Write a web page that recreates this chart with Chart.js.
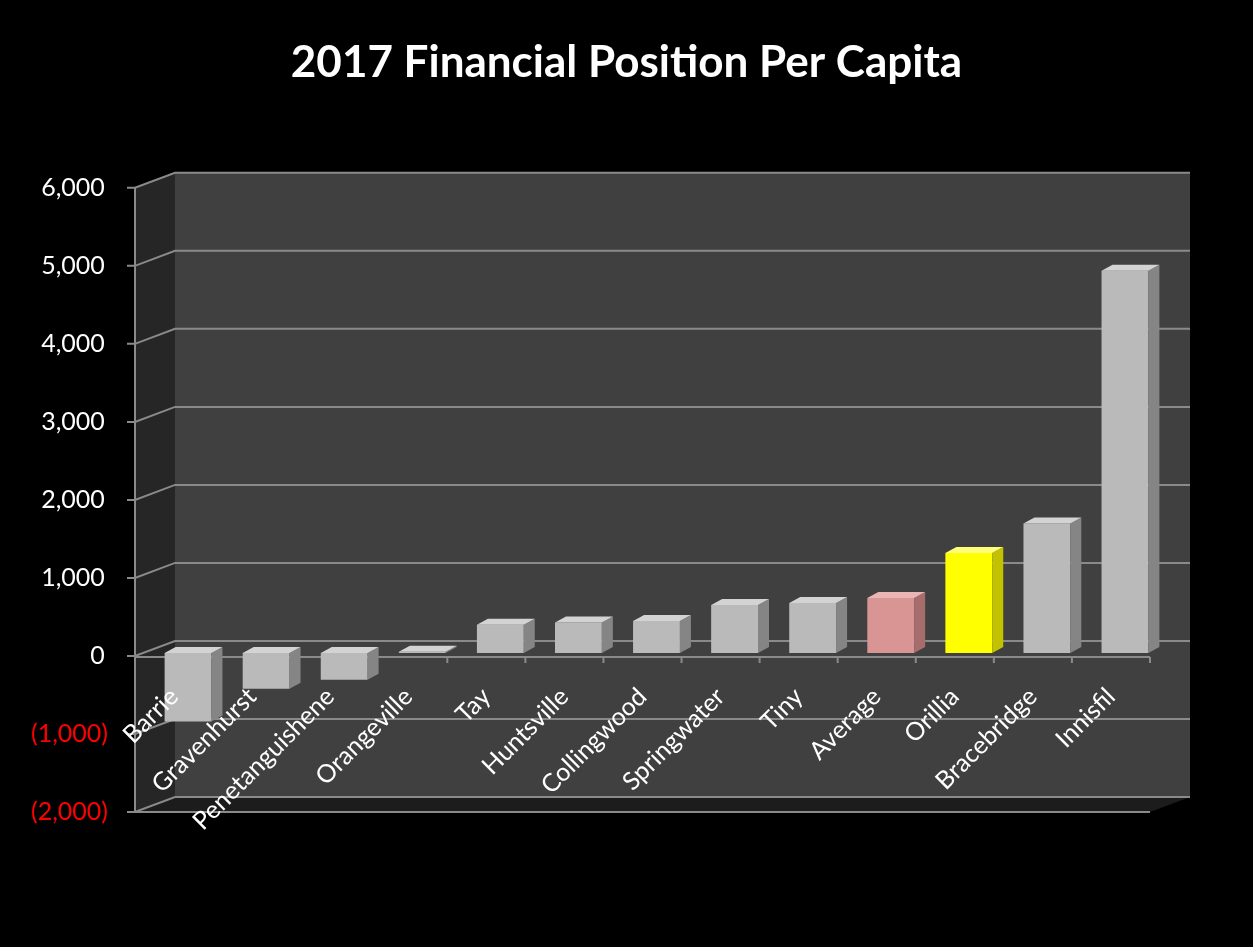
<!DOCTYPE html>
<html>
<head>
<meta charset="utf-8">
<title>2017 Financial Position Per Capita</title>
<script src="https://cdn.jsdelivr.net/npm/chart.js@4.4.1/dist/chart.umd.min.js"></script>
<style>
  html, body { margin: 0; padding: 0; background: #000; }
  canvas { display: block; }
</style>
</head>
<body>
<canvas id="positionChart" width="1253" height="947"></canvas>
<script>
// ---- Data ----
var municipalities = ['Barrie', 'Gravenhurst', 'Penetanguishene', 'Orangeville', 'Tay', 'Huntsville',
    'Collingwood', 'Springwater', 'Tiny', 'Average', 'Orillia', 'Bracebridge', 'Innisfil'];
var perCapita = [-880, -460, -345, 15, 360, 390, 410, 615, 640, 705, 1280, 1660, 4900];
var axisMin = -2000;
var axisMax = 6000;
var axisStep = 1000;

// ---- 3D box look ----
// offsets from the plane the bars stand in to the front edge / back wall
var FRONT = { dx: -14, dy: 3 };
var BACK = { dx: 26, dy: -12 };
var BAR_DEPTH = { dx: 11, dy: -6 };
var GRID_COLOR = '#8a8a8a';

function barShade(label) {
    if (label === 'Orillia') return { front: '#ffff00', side: '#c2c200', top: '#ffff7a' };
    if (label === 'Average') return { front: '#d99594', side: '#a66d6c', top: '#e9b6b5' };
    return { front: '#bababa', side: '#858585', top: '#d3d3d3' };
}

function fillPoly(ctx, pts, color) {
    ctx.beginPath();
    ctx.moveTo(pts[0][0], pts[0][1]);
    for (var i = 1; i < pts.length; i++) ctx.lineTo(pts[i][0], pts[i][1]);
    ctx.closePath();
    ctx.fillStyle = color;
    ctx.fill();
}

function formatTick(v) {
    var s = Math.abs(v).toLocaleString('en-US');
    return v < 0 ? '(' + s + ')' : s + '\u2009';
}

var box3d = {
    id: 'box3d',
    beforeDraw: function (chart) {
        var ctx = chart.ctx;
        var xs = chart.scales.x, ys = chart.scales.y;
        var l = xs.left, r = xs.right;
        var top = ys.getPixelForValue(axisMax), bot = ys.getPixelForValue(axisMin);
        var zero = ys.getPixelForValue(0);

        ctx.save();
        // back wall
        ctx.fillStyle = '#404040';
        ctx.fillRect(l + BACK.dx, top + BACK.dy, r - l, bot - top);
        // left side wall
        fillPoly(ctx, [[l + FRONT.dx, top + FRONT.dy], [l + BACK.dx, top + BACK.dy],
            [l + BACK.dx, bot + BACK.dy], [l + FRONT.dx, bot + FRONT.dy]], '#262626');
        // floor slab
        fillPoly(ctx, [[l + FRONT.dx, bot + FRONT.dy], [r + FRONT.dx, bot + FRONT.dy],
            [r + BACK.dx, bot + BACK.dy], [l + BACK.dx, bot + BACK.dy]], '#1c1c1c');

        ctx.strokeStyle = GRID_COLOR;
        ctx.lineWidth = 2;
        // gridlines: tick mark, side wall, back wall
        ys.ticks.forEach(function (t) {
            var y = ys.getPixelForValue(t.value);
            ctx.beginPath();
            ctx.moveTo(l + FRONT.dx - 8, y + FRONT.dy);
            ctx.lineTo(l + FRONT.dx, y + FRONT.dy);
            ctx.lineTo(l + BACK.dx, y + BACK.dy);
            ctx.lineTo(r + BACK.dx, y + BACK.dy);
            ctx.stroke();
        });
        // front value axis
        ctx.beginPath();
        ctx.moveTo(l + FRONT.dx, top + FRONT.dy);
        ctx.lineTo(l + FRONT.dx, bot + FRONT.dy);
        ctx.lineTo(r + FRONT.dx, bot + FRONT.dy);
        ctx.stroke();
        // category axis at zero with its tick marks
        var ay = zero + FRONT.dy + 1;
        ctx.beginPath();
        ctx.moveTo(l + FRONT.dx, ay);
        ctx.lineTo(r + FRONT.dx, ay);
        var step = (r - l) / municipalities.length;
        for (var k = 1; k <= municipalities.length; k++) {
            var tx = l + FRONT.dx + step * k;
            ctx.moveTo(tx, ay);
            ctx.lineTo(tx, ay + 6);
        }
        ctx.stroke();
        ctx.restore();
    },
    afterDatasetsDraw: function (chart) {
        var ctx = chart.ctx;
        var meta = chart.getDatasetMeta(0);
        ctx.save();
        meta.data.forEach(function (bar, i) {
            var p = bar.getProps(['x', 'y', 'base', 'width'], true);
            var left = p.x - p.width / 2, right = p.x + p.width / 2;
            var hi = Math.min(p.y, p.base), lo = Math.max(p.y, p.base);
            var shade = barShade(chart.data.labels[i]);
            // side face
            fillPoly(ctx, [[right, hi], [right + BAR_DEPTH.dx, hi + BAR_DEPTH.dy],
                [right + BAR_DEPTH.dx, lo + BAR_DEPTH.dy], [right, lo]], shade.side);
            // top face
            fillPoly(ctx, [[left, hi], [left + BAR_DEPTH.dx, hi + BAR_DEPTH.dy],
                [right + BAR_DEPTH.dx, hi + BAR_DEPTH.dy], [right, hi]], shade.top);
        });
        ctx.restore();
    }
};

var ctx = document.getElementById('positionChart');
new Chart(ctx, {
    type: 'bar',
    data: {
        labels: municipalities,
        datasets: [{
            data: perCapita,
            backgroundColor: function (c) { return barShade(municipalities[c.dataIndex]).front; },
            borderWidth: 0,
            categoryPercentage: 1,
            barPercentage: 0.6
        }]
    },
    options: {
        responsive: false,
        animation: false,
        layout: { padding: { left: 0, right: 0, top: 0, bottom: 138 } },
        plugins: {
            legend: { display: false },
            tooltip: { enabled: false },
            title: {
                display: true,
                text: '2017 Financial Position Per Capita',
                color: '#ffffff',
                font: { family: 'Lato', size: 44, weight: 'bold' },
                padding: { top: 36, bottom: 96 }
            }
        },
        scales: {
            y: {
                min: axisMin,
                max: axisMax,
                afterFit: function (scale) { scale.width = 149; },
                grid: { display: false, drawTicks: false },
                border: { display: false },
                ticks: {
                    stepSize: axisStep,
                    padding: 41,
                    labelOffset: 3,
                    font: { family: 'Lato', size: 25 },
                    color: function (c) { return c.tick.value < 0 ? '#ff0000' : '#ffffff'; },
                    callback: function (v) { return formatTick(v); }
                }
            },
            // empty right-hand axis that keeps room for the box depth
            yRight: {
                position: 'right',
                afterFit: function (scale) { scale.width = 89; },
                grid: { display: false, drawTicks: false },
                border: { display: false },
                ticks: { display: false }
            },
            x: {
                position: { y: 0 },
                offset: true,
                grid: { display: false, drawTicks: false },
                border: { display: false },
                ticks: {
                    z: 1,
                    autoSkip: false,
                    minRotation: 45,
                    maxRotation: 45,
                    labelOffset: -14,
                    padding: 29,
                    color: '#ffffff',
                    font: { family: 'Lato', size: 25 }
                }
            }
        }
    },
    plugins: [box3d]
});
</script>
</body>
</html>
